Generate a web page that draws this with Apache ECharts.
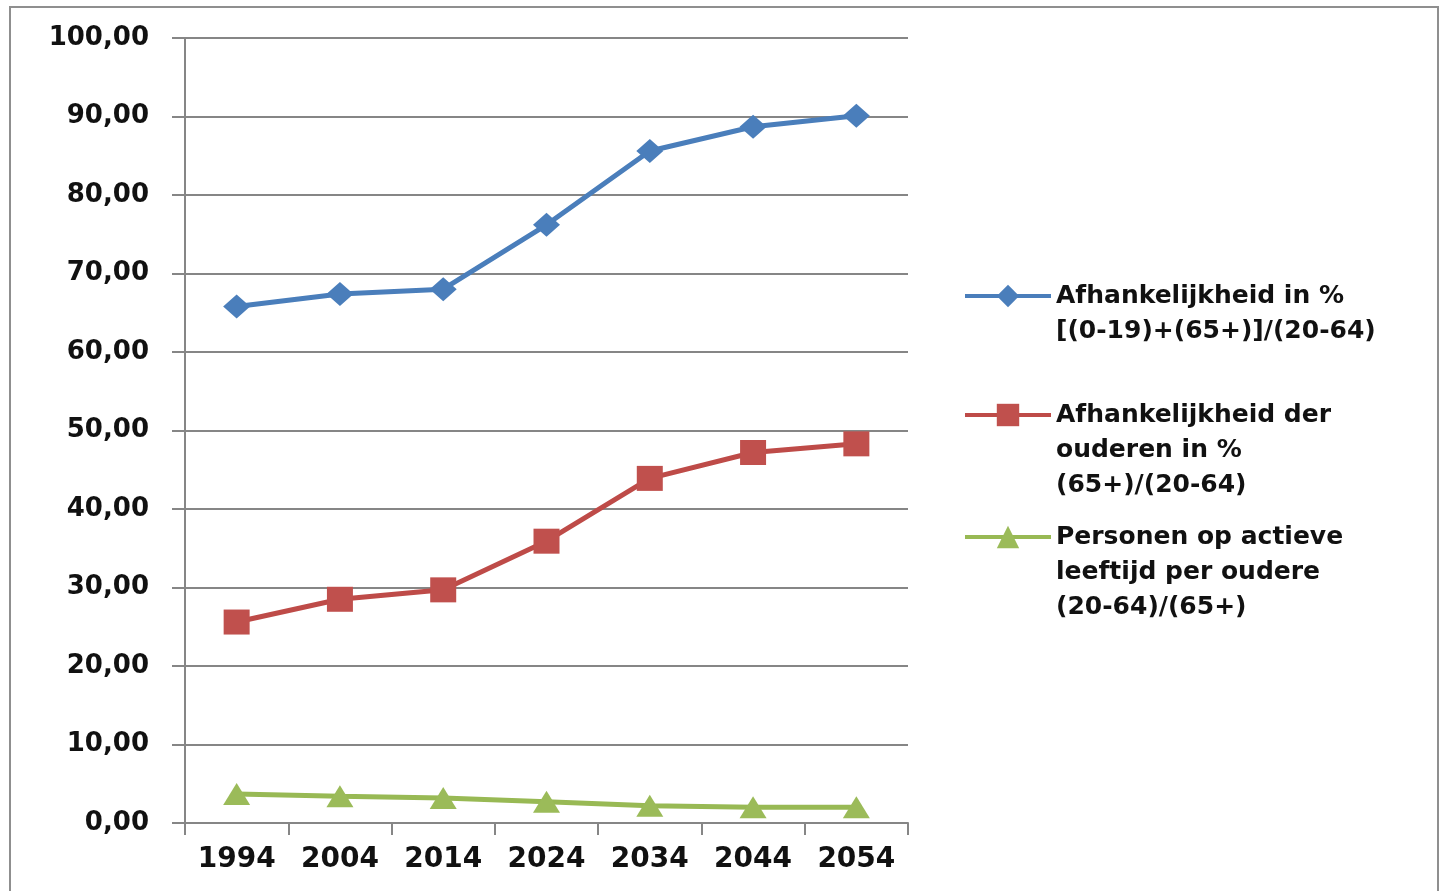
<!DOCTYPE html>
<html>
<head>
<meta charset="utf-8">
<title>Afhankelijkheid 1994-2054</title>
<script src="https://cdn.jsdelivr.net/npm/echarts@6/dist/echarts.min.js"></script>
<style>
  html, body { margin: 0; padding: 0; background: #ffffff; }
  #chart { width: 1439px; height: 891px; }
</style>
</head>
<body>
<div id="chart"></div>
<script>
// Years on the category axis
const years = ['1994', '2004', '2014', '2024', '2034', '2044', '2054'];

// Series names (shown in the legend)
const nameTotal = 'Afhankelijkheid in %\n[(0-19)+(65+)]/(20-64)';
const nameElderly = 'Afhankelijkheid der\nouderen in %\n(65+)/(20-64)';
const nameActive = 'Personen op actieve\nleeftijd per oudere\n(20-64)/(65+)';

// Values per year
const totalDependency = [65.8, 67.4, 68.0, 76.2, 85.6, 88.7, 90.1];
const elderlyDependency = [25.6, 28.5, 29.7, 35.9, 43.9, 47.2, 48.3];
const activePerElderly = [3.7, 3.4, 3.2, 2.7, 2.2, 2.0, 2.0];

// Value axis ticks
const yMin = 0, yMax = 100, yStep = 10;

const gridGray = '#868686';
const labelFont = 'DejaVu Sans, Verdana, sans-serif';

const chart = echarts.init(document.getElementById('chart'), null, { renderer: 'canvas' });

// One legend block per series; the icon sits level with the first text line,
// so blank lines are put in front of the name to balance the block around it.
const legendLineHeight = 35;
function legendFor(name, iconCenterY) {
  const lines = name.split('\n').length;
  return {
    show: true,
    orient: 'vertical',
    left: 963,
    top: iconCenterY - (2 * lines - 1) * legendLineHeight / 2,
    padding: 0,
    itemWidth: 86,
    itemHeight: 28,
    selectedMode: false,
    data: [name],
    formatter: n => '\n'.repeat(lines - 1) + n,
    lineStyle: { width: 4 },
    textStyle: {
      fontFamily: labelFont,
      fontWeight: 'bold',
      fontSize: 25,
      color: '#111111',
      lineHeight: legendLineHeight
    }
  };
}

const option = {
  backgroundColor: '#ffffff',
  animation: false,
  graphic: [{
    type: 'rect',
    shape: { x: 10, y: 7, width: 1428, height: 900 },
    style: { fill: 'none', stroke: '#8f8f8f', lineWidth: 2 },
    silent: true,
    z: -1
  }],
  legend: [
    legendFor(nameTotal, 296),
    legendFor(nameElderly, 415),
    legendFor(nameActive, 537)
  ],
  grid: {
    left: 185,
    right: 531,
    top: 38,
    bottom: 68,
    containLabel: false
  },
  xAxis: {
    type: 'category',
    data: years,
    boundaryGap: true,
    axisLine: { show: true, lineStyle: { color: gridGray, width: 2 } },
    axisTick: { show: true, length: 12, alignWithLabel: false, lineStyle: { color: gridGray, width: 2 } },
    axisLabel: {
      margin: 23,
      fontFamily: labelFont,
      fontWeight: 'bold',
      fontSize: 28,
      color: '#111111'
    },
    splitLine: { show: false }
  },
  yAxis: {
    type: 'value',
    min: yMin,
    max: yMax,
    interval: yStep,
    axisLine: { show: true, lineStyle: { color: gridGray, width: 2 } },
    axisTick: { show: true, inside: false, length: 13, lineStyle: { color: gridGray, width: 2 } },
    axisLabel: {
      margin: 36,
      fontFamily: labelFont,
      fontWeight: 'bold',
      fontSize: 26,
      color: '#111111',
      formatter: v => v.toFixed(2).replace('.', ',')
    },
    splitLine: { show: true, lineStyle: { color: gridGray, width: 2 } }
  },
  series: [
    {
      name: nameTotal,
      type: 'line',
      data: totalDependency,
      symbol: 'diamond',
      symbolSize: [27, 24],
      lineStyle: { color: '#4a7ebb', width: 5 },
      itemStyle: { color: '#4a7ebb', borderWidth: 0 }
    },
    {
      name: nameElderly,
      type: 'line',
      data: elderlyDependency,
      symbol: 'rect',
      symbolSize: [26, 25],
      lineStyle: { color: '#be4b48', width: 5 },
      itemStyle: { color: '#c0504d', borderWidth: 0 }
    },
    {
      name: nameActive,
      type: 'line',
      data: activePerElderly,
      symbol: 'triangle',
      symbolSize: [27, 22],
      lineStyle: { color: '#98b954', width: 5 },
      itemStyle: { color: '#9bbb59', borderWidth: 0 }
    }
  ]
};

chart.setOption(option);
</script>
</body>
</html>
